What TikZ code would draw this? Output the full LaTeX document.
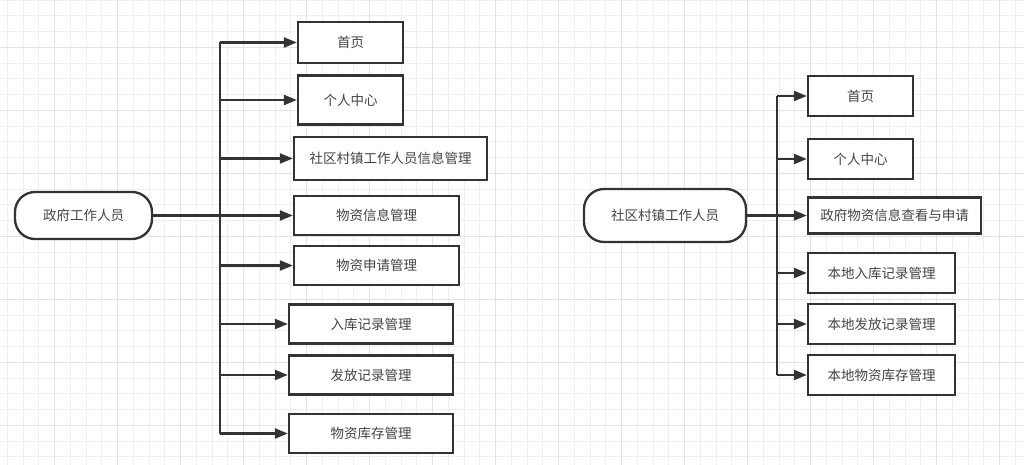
\documentclass[tikz,border=0pt]{standalone}
\usepackage{fontspec}
\setmainfont{Noto Sans CJK SC}
\usetikzlibrary{arrows.meta}
\definecolor{ln}{HTML}{333333}
\definecolor{tx}{HTML}{444444}
\definecolor{gminor}{HTML}{EFEFEF}
\definecolor{gmajor}{HTML}{E3E3E3}
\tikzset{
  box/.style={draw=ln, line width=2.3pt, fill=white, inner sep=0pt, text=tx, font=\fontsize{13.5}{15}\selectfont},
  rootbox/.style={box, rounded corners=20pt},
  arr/.style={draw=ln, line width=2.3pt, -{Triangle[length=13pt,width=10pt]}},
  link/.style={draw=ln, line width=2.3pt},
  trunkline/.style={draw=ln, line width=2.6pt}
}
\begin{document}
\begin{tikzpicture}[x=1pt,y=-1pt]
\useasboundingbox (0,0) rectangle (1024,465);
\fill[white] (0,0) rectangle (1024,465);
% grid
\foreach \i in {0,...,65} {\draw[gminor, line width=0.9pt] ({7.3+15.75*\i},0) -- ({7.3+15.75*\i},465);}
\foreach \i in {0,...,30} {\draw[gminor, line width=0.9pt] (0,{0+15.75*\i}) -- (1024,{0+15.75*\i});}
\foreach \i in {0,...,16} {\draw[gmajor, line width=1.1pt] ({54.3+63*\i-63},0) -- ({54.3+63*\i-63},465);}
\foreach \i in {0,...,8} {\draw[gmajor, line width=1.1pt] (0,{47.3+63*\i-63}) -- (1024,{47.3+63*\i-63});}

% left diagram
\node[rootbox, minimum width=137pt, minimum height=47pt] (g) at (83.5,215.5) {政府工作人员};
\node[box, minimum width=105pt, minimum height=41pt] (b1) at (350.5,42.5) {首页};
\node[box, minimum width=105pt, minimum height=49pt] (b2) at (350.5,100) {个人中心};
\node[box, minimum width=193pt, minimum height=43pt] (b3) at (390.5,158.5) {社区村镇工作人员信息管理};
\node[box, minimum width=165pt, minimum height=39pt] (b4) at (376.5,215.5) {物资信息管理};
\node[box, minimum width=165pt, minimum height=39pt] (b5) at (376.5,265.5) {物资申请管理};
\node[box, minimum width=164pt, minimum height=39pt] (b6) at (371,324) {入库记录管理};
\node[box, minimum width=164pt, minimum height=39pt] (b7) at (371,375) {发放记录管理};
\node[box, minimum width=164pt, minimum height=39pt] (b8) at (371,433.5) {物资库存管理};
\coordinate (lt) at (220,215.5);
\draw[trunkline] (b1.west -| lt) -- (b8.west -| lt);
\draw[link] (g.east) -- (lt);
\foreach \b in {b1,b2,b3,b4,b5,b6,b7,b8} {\draw[arr] (\b.west -| lt) -- (\b.west);}

% right diagram
\node[rootbox, minimum width=162pt, minimum height=53pt] (s) at (665,215.5) {社区村镇工作人员};
\node[box, minimum width=105pt, minimum height=40pt] (c1) at (860.5,96) {首页};
\node[box, minimum width=105pt, minimum height=40pt] (c2) at (860.5,159) {个人中心};
\node[box, minimum width=173pt, minimum height=36pt] (c3) at (894.5,215.5) {政府物资信息查看与申请};
\node[box, minimum width=147pt, minimum height=40pt] (c4) at (881.5,273) {本地入库记录管理};
\node[box, minimum width=147pt, minimum height=40pt] (c5) at (881.5,324) {本地发放记录管理};
\node[box, minimum width=147pt, minimum height=40pt] (c6) at (881.5,375) {本地物资库存管理};
\coordinate (rt) at (777,215.5);
\draw[trunkline] (c1.west -| rt) -- (c6.west -| rt);
\draw[link] (s.east) -- (rt);
\foreach \c in {c1,c2,c3,c4,c5,c6} {\draw[arr] (\c.west -| rt) -- (\c.west);}
\end{tikzpicture}
\end{document}
